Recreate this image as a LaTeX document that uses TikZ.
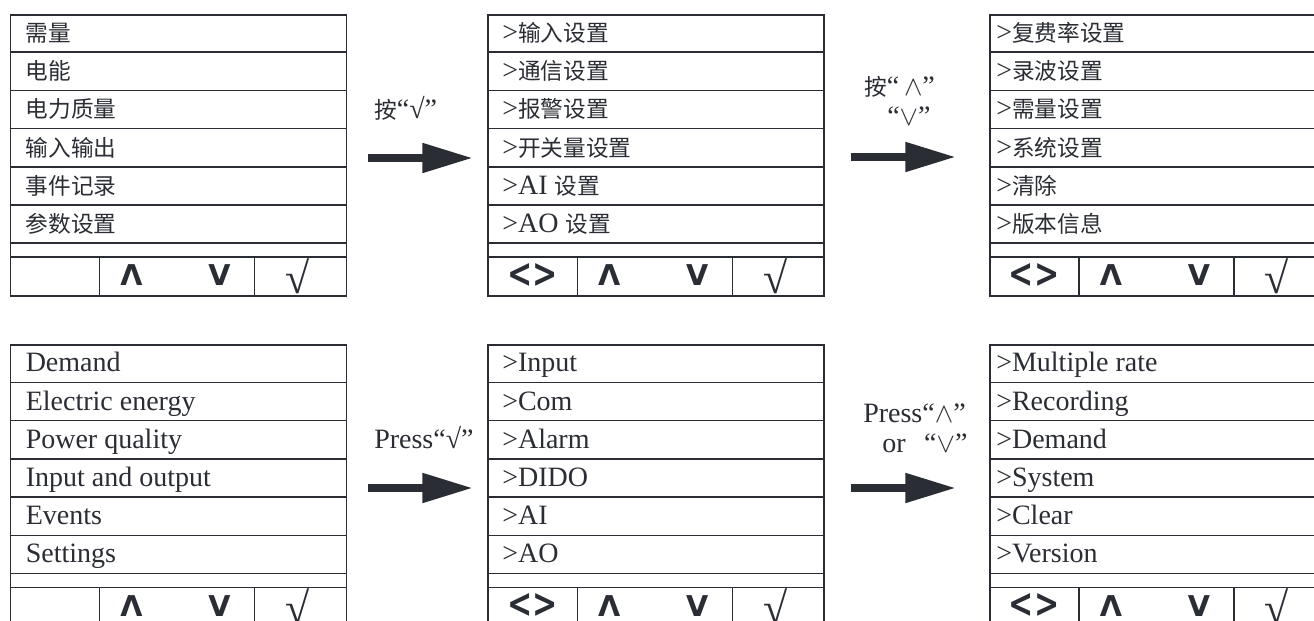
\documentclass[tikz,border=0pt]{standalone}
\usepackage{fontspec}
\setmainfont{Liberation Serif}
\newfontfamily\cjk{Noto Sans CJK SC}
\newfontfamily\dvs{DejaVu Sans}
\usetikzlibrary{arrows.meta}
\definecolor{ink}{HTML}{2A2D33}
\newcommand\zh[1]{{\cjk\fontsize{17}{17}\selectfont #1}}
\newcommand\btnfont{\dvs\bfseries\fontsize{21.5}{21.5}\selectfont}
\newcommand\lgc[1]{\ensuremath{#1}}
\tikzset{
  rowline/.style={draw=ink, line width=1.1pt},
  boxframe/.style={draw=ink, line width=1.4pt, inner sep=0pt, anchor=north west,
    minimum width=252pt, minimum height=210.75pt},
  item/.style={anchor=base west, inner sep=0pt, text=ink, font=\fontsize{21}{21}\selectfont},
  lab/.style={anchor=base west, inner sep=0pt, text=ink, font=\fontsize{21}{21}\selectfont},
  btn/.style={text=ink, inner sep=0pt, font=\btnfont},
  chk/.style={text=ink, inner sep=0pt, font=\fontsize{33}{33}\selectfont},
  bigarrow/.style={draw=ink, line width=6pt, -{Triangle[length=38pt,width=21pt]}}
}
% #1 name, #2 x, #3 y, #4 extra button content
\newcommand\menubox[4]{%
  \node[boxframe] (#1) at (#2,#3) {};
  \begin{scope}[shift={(#2,#3)}]
    \foreach \yy in {38.2,76.4,114.6,152.8,191,229.2,243.2}
      \draw[rowline] (0,\yy) -- (336,\yy);
    \draw[rowline] (90,243.2) -- (90,281);
    \draw[rowline] (245,243.2) -- (245,281);
    \node[btn] (#1up) at (122,261.5) {Λ};
    \node[btn] (#1dn) at (210,261.5) {V};
    \node[chk] (#1ok) at (288,262) {√};
    #4
  \end{scope}}
% #1 prefix, #2 x, #3 y(top), #4..#9 texts
\newcommand\menuitems[9]{%
  \node[item] (#1a) at (#2,#3+27.5) {#4};
  \node[item] (#1b) at (#2,#3+65.7) {#5};
  \node[item] (#1c) at (#2,#3+103.9) {#6};
  \node[item] (#1d) at (#2,#3+142.1) {#7};
  \node[item] (#1e) at (#2,#3+180.3) {#8};
  \node[item] (#1f) at (#2,#3+218.5) {#9};}
\newcommand\lr{\node[btn] at (45,261.5) {\scalebox{1.05}[1.4]{<>}};}
\begin{document}
\begin{tikzpicture}[x=0.75pt,y=-0.75pt]
\clip (0,0) rectangle (1314,621);
\fill[white] (0,0) rectangle (1314,621);
% ---- top row
\menubox{m1}{9.5}{14}{}
\menuitems{t1}{25.5}{14}{\zh{需量}}{\zh{电能}}{\zh{电力质量}}{\zh{输入输出}}{\zh{事件记录}}{\zh{参数设置}}
\menubox{m2}{487.3}{14}{\lr}
\menuitems{t2}{502}{14}{>\zh{输入设置}}{>\zh{通信设置}}{>\zh{报警设置}}{>\zh{开关量设置}}{>AI \zh{设置}}{>AO \zh{设置}}
\menubox{m3}{989}{14}{\lr}
\menuitems{t3}{996}{14}{>\zh{复费率设置}}{>\zh{录波设置}}{>\zh{需量设置}}{>\zh{系统设置}}{>\zh{清除}}{>\zh{版本信息}}
% ---- bottom row
\menubox{n1}{9.5}{344.3}{}
\menuitems{b1}{25.5}{344.3}{Demand}{Electric energy}{Power quality}{Input and output}{Events}{Settings}
\menubox{n2}{487.3}{344.3}{\lr}
\menuitems{b2}{502}{344.3}{>Input}{>Com}{>Alarm}{>DIDO}{>AI}{>AO}
\menubox{n3}{989}{344.3}{\lr}
\menuitems{b3}{996}{344.3}{>Multiple rate}{>Recording}{>Demand}{>System}{>Clear}{>Version}
% ---- labels
\node[lab] (l1) at (374,118) {\zh{按}“√”};
\node[lab] (l2) at (864,95) {\zh{按}“\,\lgc{\wedge}”};
\node[lab] (l3) at (887,125) {“\lgc{\vee}”};
\node[lab] (l4) at (374,448) {Press“√”};
\node[lab] (l5) at (863,422) {Press“\lgc{\wedge}”};
\node[lab] (l6) at (882,452) {or\hspace{14pt}“\lgc{\vee}”};
% ---- arrows
\coordinate (a1s) at (368,158); \coordinate (a1e) at (473,158);
\coordinate (a2s) at (851,157); \coordinate (a2e) at (956,157);
\coordinate (a3s) at (368,488); \coordinate (a3e) at (473,488);
\coordinate (a4s) at (851,488); \coordinate (a4e) at (956,488);
\draw[bigarrow] (a1s) -- (a1e);
\draw[bigarrow] (a2s) -- (a2e);
\draw[bigarrow] (a3s) -- (a3e);
\draw[bigarrow] (a4s) -- (a4e);
\end{tikzpicture}
\end{document}
